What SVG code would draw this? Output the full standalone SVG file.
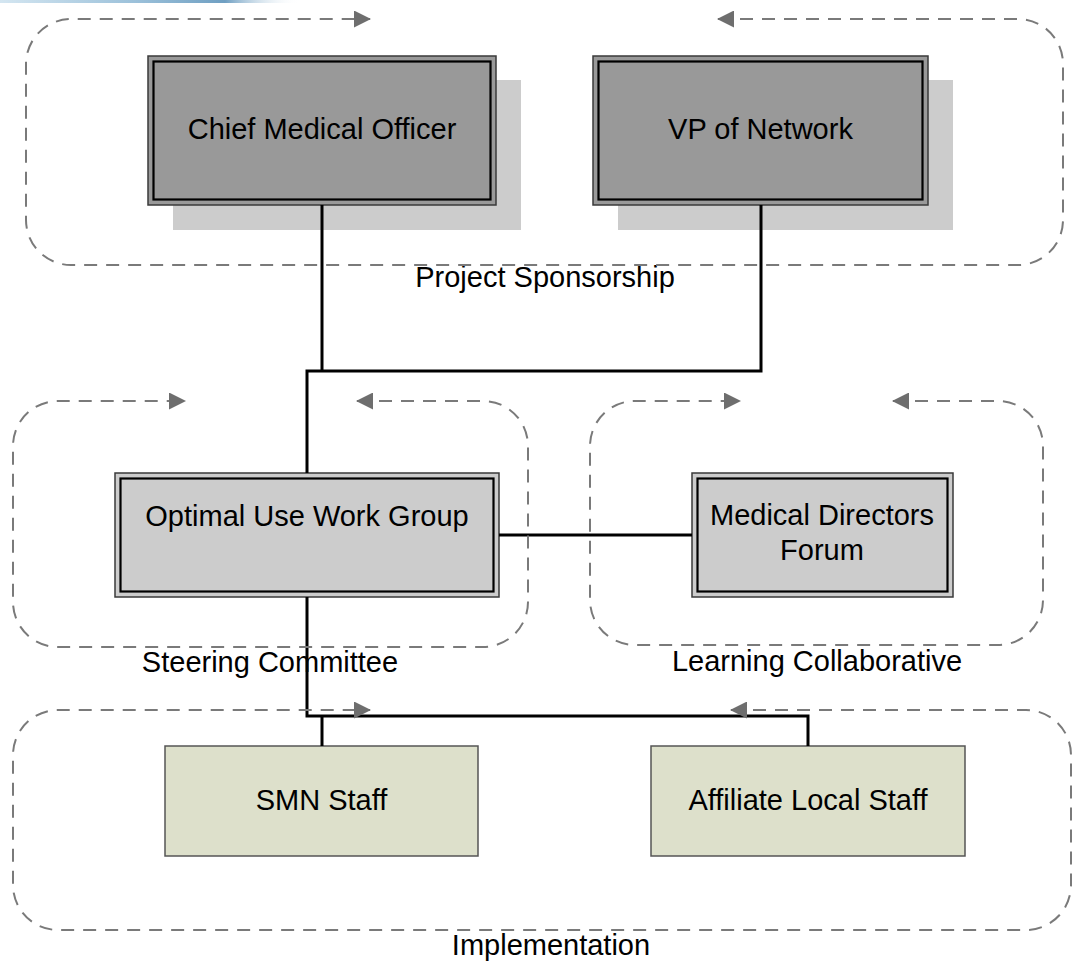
<svg xmlns="http://www.w3.org/2000/svg" width="1074" height="964" viewBox="0 0 1074 964">
  <style>
    .loop { fill: none; stroke: #7a7a7a; stroke-width: 2; stroke-dasharray: 13 9; marker-start: url(#arrow); marker-end: url(#arrow); }
    .label { font-family: "Liberation Sans", Arial, sans-serif; font-size: 29px; fill: #000; text-anchor: middle; }
    .shadow { fill: #cccccc; }
    .outer { stroke: #3a3a3a; stroke-width: 1.5; }
    .inner { fill: none; stroke: #000; stroke-width: 2.2; }
    .exec { fill: #999999; }
    .steer { fill: #cccccc; }
    .staff { fill: #dde0cb; stroke: #555; stroke-width: 1.5; }
    .wire { fill: none; stroke: #000; stroke-width: 3; }
  </style>
  <defs>
    <marker id="arrow" markerUnits="userSpaceOnUse" markerWidth="17" markerHeight="17" viewBox="0 0 17 17" refX="16" refY="8.5" orient="auto-start-reverse">
      <path d="M0,0 L17,8.5 L0,17 z" fill="#6e6e6e"/>
    </marker>
    <linearGradient id="band" x1="0" y1="0" x2="1" y2="0">
      <stop offset="0" stop-color="#d4e6f1"/>
      <stop offset="0.45" stop-color="#9cc1da"/>
      <stop offset="0.75" stop-color="#6f9fc2"/>
      <stop offset="1" stop-color="#ffffff" stop-opacity="0"/>
    </linearGradient>
  </defs>

  <rect width="1074" height="964" fill="#ffffff"/>
  <rect x="0" y="0" width="300" height="3" fill="url(#band)"/>

  <!-- group captions -->
  <g id="captions">
    <text class="label" x="545" y="287">Project Sponsorship</text>
    <text class="label" x="270" y="672">Steering Committee</text>
    <text class="label" x="817" y="671">Learning Collaborative</text>
    <text class="label" x="551" y="955">Implementation</text>
  </g>

  <!-- sponsors -->
  <g id="chief-medical-officer">
    <rect class="shadow" x="173" y="80" width="348" height="150"/>
    <rect class="outer exec" x="148" y="56" width="348" height="149"/>
    <rect class="inner" x="153.5" y="61.5" width="337" height="138"/>
    <text class="label" x="322" y="139">Chief Medical Officer</text>
  </g>
  <g id="vp-of-network">
    <rect class="shadow" x="618" y="80" width="335" height="150"/>
    <rect class="outer exec" x="593" y="56" width="335" height="149"/>
    <rect class="inner" x="598.5" y="61.5" width="324" height="138"/>
    <text class="label" x="760.5" y="139">VP of Network</text>
  </g>

  <!-- steering / learning -->
  <g id="optimal-use-work-group">
    <rect class="outer steer" x="115" y="473" width="384" height="124"/>
    <rect class="inner" x="120.5" y="478.5" width="373" height="113"/>
    <text class="label" x="307" y="526">Optimal Use Work Group</text>
  </g>
  <g id="medical-directors-forum">
    <rect class="outer steer" x="692" y="473" width="261" height="124"/>
    <rect class="inner" x="697.5" y="478.5" width="250" height="113"/>
    <text class="label" x="822" y="525">Medical Directors</text>
    <text class="label" x="822" y="560">Forum</text>
  </g>

  <!-- implementation staff -->
  <g id="smn-staff">
    <rect class="staff" x="165" y="746" width="313" height="110"/>
    <text class="label" x="321.5" y="810">SMN Staff</text>
  </g>
  <g id="affiliate-local-staff">
    <rect class="staff" x="651" y="746" width="314" height="110"/>
    <text class="label" x="808" y="810">Affiliate Local Staff</text>
  </g>

  <!-- reporting lines -->
  <g id="connectors">
    <polyline class="wire" points="322,205 322,371"/>
    <polyline class="wire" points="761,205 761,371 307,371 307,473"/>
    <polyline class="wire" points="499,535 692,535"/>
    <polyline class="wire" points="307,597 307,716 808,716 808,746"/>
    <polyline class="wire" points="322,716 322,746"/>
  </g>

  <!-- dashed cycle loops around each tier -->
  <g id="loop-sponsorship">
    <path class="loop" d="M718 19 H1018 A45 45 0 0 1 1063 64 V220 A45 45 0 0 1 1018 265 H71 A45 45 0 0 1 26 220 V64 A45 45 0 0 1 71 19 H370"/>
  </g>
  <g id="loop-steering">
    <path class="loop" d="M357 401 H483 A45 45 0 0 1 528 446 V602 A45 45 0 0 1 483 647 H58 A45 45 0 0 1 13 602 V446 A45 45 0 0 1 58 401 H185"/>
  </g>
  <g id="loop-learning">
    <path class="loop" d="M893 401 H998 A45 45 0 0 1 1043 446 V600 A45 45 0 0 1 998 645 H635 A45 45 0 0 1 590 600 V446 A45 45 0 0 1 635 401 H740"/>
  </g>
  <g id="loop-implementation">
    <path class="loop" d="M731 710 H1026 A45 45 0 0 1 1071 755 V885 A45 45 0 0 1 1026 930 H58 A45 45 0 0 1 13 885 V755 A45 45 0 0 1 58 710 H370"/>
  </g>
</svg>
